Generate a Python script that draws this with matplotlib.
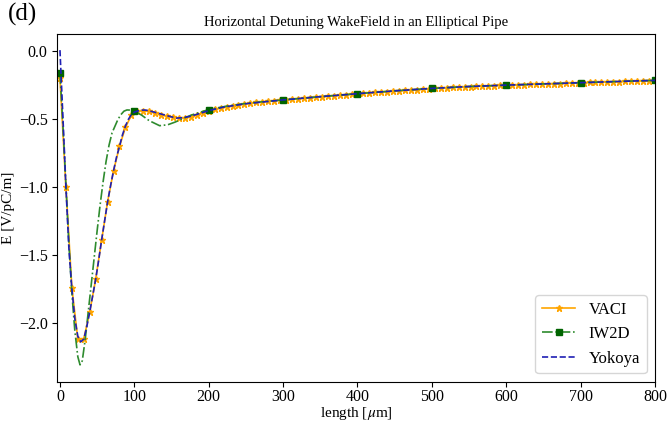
import matplotlib
matplotlib.use("Agg")
import matplotlib.pyplot as plt
import numpy as np

plt.rcParams["font.family"] = ["Liberation Serif", "DejaVu Serif"]
plt.rcParams["mathtext.fontset"] = "stix"

# VACI: sampled every 8 um
vaci_x = np.arange(0, 801, 8)
vaci_y = [
    -0.195, -1.00, -1.74, -2.12, -2.12, -1.92, -1.68, -1.39, -1.11, -0.88,
    -0.70, -0.56, -0.47, -0.44, -0.435, -0.44, -0.452, -0.465, -0.478, -0.486,
    -0.490, -0.488, -0.480, -0.468, -0.452, -0.437, -0.426, -0.416, -0.408, -0.400,
    -0.393, -0.387, -0.381, -0.376, -0.371, -0.366, -0.362, -0.358, -0.355, -0.351,
    -0.347, -0.343, -0.340, -0.336, -0.332, -0.329, -0.325, -0.322, -0.318, -0.315,
    -0.311, -0.308, -0.305, -0.302, -0.299, -0.296, -0.293, -0.290, -0.287, -0.284,
    -0.281, -0.278, -0.275, -0.271, -0.269, -0.267, -0.265, -0.263, -0.261, -0.259,
    -0.257, -0.255, -0.253, -0.251, -0.250, -0.248, -0.247, -0.245, -0.244, -0.243,
    -0.241, -0.240, -0.239, -0.237, -0.236, -0.234, -0.233, -0.231, -0.230, -0.228,
    -0.227, -0.226, -0.224, -0.223, -0.222, -0.220, -0.219, -0.217, -0.216, -0.214,
    -0.213,
]

iw2d_x = [0, 4, 8, 12, 16, 20, 24, 27, 30, 34, 38, 42, 46, 50, 54, 58, 62, 66, 70,
          74, 78, 82, 86, 90, 95, 100, 110, 120, 134, 145, 155, 165, 177, 190, 200,
          225, 250, 275, 300, 350, 400, 450, 500, 550, 600, 650, 700, 750, 800]
iw2d_y = [-0.16, -0.55, -0.98, -1.42, -1.78, -2.06, -2.25, -2.31, -2.28, -2.12,
          -1.92, -1.72, -1.52, -1.32, -1.13, -0.96, -0.81, -0.69, -0.60,
          -0.55, -0.50, -0.465, -0.44, -0.431, -0.432, -0.438, -0.47, -0.51, -0.547,
          -0.54, -0.52, -0.495, -0.468, -0.445, -0.428,
          -0.402, -0.383, -0.369, -0.357, -0.333, -0.311, -0.290, -0.272, -0.258,
          -0.248, -0.239, -0.230, -0.221, -0.213]
iw2d_marks = [0, 100, 200, 300, 400, 500, 600, 700, 800]

yok_x = [0, 2, 4, 6, 8, 12, 16, 20, 24, 28, 32, 36, 40, 44, 48, 52, 56, 60, 64,
         68, 72, 76, 80, 84, 88, 92, 96, 100, 105, 110, 115, 120, 130, 140, 150,
         157, 165, 175, 185, 200, 220, 250, 300, 350, 400, 450, 500, 550, 600,
         650, 700, 750, 800]
yok_y = [0.01, -0.24, -0.49, -0.74, -1.00, -1.45, -1.75, -1.97, -2.10, -2.14,
         -2.12, -2.03, -1.92, -1.80, -1.68, -1.54, -1.39, -1.25, -1.11,
         -0.99, -0.88, -0.78, -0.70, -0.615, -0.55, -0.50, -0.465, -0.447, -0.438,
         -0.432, -0.432, -0.437, -0.452, -0.467, -0.482,
         -0.491, -0.488, -0.478, -0.462, -0.436, -0.410, -0.385, -0.357, -0.333,
         -0.311, -0.290, -0.272, -0.258, -0.248, -0.239, -0.230, -0.221, -0.213]

fig = plt.figure(figsize=(6.67, 4.23), dpi=100)
ax = fig.add_axes([0.086, 0.098, 0.896, 0.821])

ax.plot(vaci_x, vaci_y, color="orange", marker="*", markersize=5, lw=1.2, label="VACI")
mk = [iw2d_x.index(v) for v in iw2d_marks]
ax.plot(iw2d_x, iw2d_y, color="#2e8b2e", ls="-.", lw=1.2, marker="s", markersize=4.5,
        markerfacecolor="darkgreen", markeredgecolor="darkgreen", markevery=mk, label="IW2D")
ax.plot(yok_x, yok_y, color="#1f1fb4", ls="--", lw=1.2, label="Yokoya")

ax.set_xlim(-3.5, 800)
ax.set_ylim(-2.433, 0.127)
ax.set_xticks(np.arange(0, 801, 100))
ax.set_yticks([0.0, -0.5, -1.0, -1.5, -2.0])
ax.tick_params(labelsize=11.5)
ax.tick_params(axis="x", pad=2)
ax.set_xlabel(r"length [$\mu$m]", fontsize=11, labelpad=0)
ax.set_ylabel("E [V/pC/m]", fontsize=11, labelpad=3)
ax.set_title("Horizontal Detuning WakeField in an Elliptical Pipe", fontsize=10.5)
ax.legend(loc="lower right", fontsize=12)

fig.text(0.012, 0.965, "(d)", fontsize=18, va="center")

fig.savefig("out.png", dpi=100)
